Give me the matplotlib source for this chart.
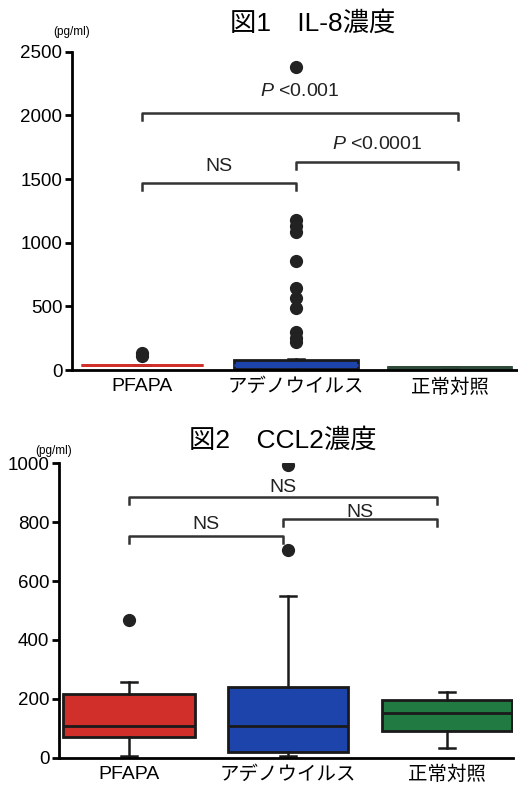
import matplotlib.pyplot as plt
import numpy as np

plt.rcParams['font.family'] = ['Liberation Sans', 'Noto Sans CJK JP', 'DejaVu Sans']
plt.rcParams['mathtext.fontset'] = 'custom'
plt.rcParams['mathtext.it'] = 'Liberation Sans:italic'
plt.rcParams['mathtext.rm'] = 'Liberation Sans'

groups = ['PFAPA', 'アデノウイルス', '正常対照']
colors = ['#d1302a', '#1c44aa', '#217a42']

# fig 1: IL-8 (pg/ml)
il8_q1 = [38, 8, 20]
il8_med = [40, 40, 24]
il8_q3 = [42, 80, 28]
il8_lo = [38, 5, 20]
il8_hi = [42, 90, 28]
il8_fliers = [[135, 112],
              [2380, 1180, 1130, 1085, 857, 645, 566, 487, 299, 250, 220],
              []]

# fig 2: CCL2 (pg/ml)
ccl2_q1 = [71, 20, 92]
ccl2_med = [108, 108, 153]
ccl2_q3 = [217, 241, 197]
ccl2_lo = [5, 5, 34]
ccl2_hi = [258, 549, 224]
ccl2_fliers = [[468], [993, 705], []]

# significance brackets: (x1, x2, y, label, label_y)
il8_sig = [(0, 1, 1470, 'NS', 1600),
           (1, 2.05, 1635, '$P$ <0.0001', 1775),
           (0, 2.05, 2020, '$P$ <0.001', 2185)]
ccl2_sig = [(0, 0.97, 752, 'NS', 793),
            (0.97, 1.94, 810, 'NS', 834),
            (0, 1.94, 885, 'NS', 918)]


def make_stats(q1, med, q3, lo, hi, fl):
    out = []
    for i in range(len(q1)):
        out.append(dict(q1=q1[i], med=med[i], q3=q3[i], whislo=lo[i],
                        whishi=hi[i], fliers=fl[i], label=groups[i]))
    return out


def draw_panel(ax, stats, widths, edge, medc, sig, tick, ymax):
    bp = ax.bxp(stats, positions=range(len(stats)), widths=widths,
                capwidths=0.1, patch_artist=True, showfliers=True,
                boxprops=dict(linewidth=2),
                medianprops=dict(color='#1a1a1a', linewidth=2),
                whiskerprops=dict(color='#1a1a1a', linewidth=1.8),
                capprops=dict(color='#1a1a1a', linewidth=1.8),
                flierprops=dict(marker='o', markerfacecolor='#222222',
                                markeredgecolor='#222222', markersize=8.5))
    for i, b in enumerate(bp['boxes']):
        b.set_facecolor(colors[i])
        b.set_edgecolor(edge[i])
    for i, m in enumerate(bp['medians']):
        m.set_color(medc[i])
    for x1, x2, y, lab, ly in sig:
        d = ymax * 0.022
        ax.plot([x1, x1, x2, x2], [y - d, y, y, y - d], color='#333333',
                lw=1.8, clip_on=False)
        ax.text((x1 + x2) / 2, ly, lab, ha='center', va='center',
                fontsize=14, color='#222222')
    ax.set_ylim(0, ymax)
    ax.set_yticks(np.arange(0, ymax + 1, tick))
    ax.spines['top'].set_visible(False)
    ax.spines['right'].set_visible(False)
    ax.spines['left'].set_linewidth(2)
    ax.spines['bottom'].set_linewidth(2)
    ax.tick_params(axis='y', labelsize=13.5, length=5, width=2, pad=2)
    ax.tick_params(axis='x', labelsize=14, length=0, pad=6)


fig = plt.figure(figsize=(5.18, 7.96), dpi=100)

ax1 = fig.add_axes([0.139, 0.535, 0.861, 0.400])
draw_panel(ax1, make_stats(il8_q1, il8_med, il8_q3, il8_lo, il8_hi, il8_fliers),
           [0.79, 0.81, 0.80], [colors[0], '#1a1a1a', '#2e4a38'],
           [colors[0], colors[1], '#2e4a38'], il8_sig, 500, 2500)
ax1.set_xlim(-0.456, 2.443)

ax2 = fig.add_axes([0.114, 0.048, 0.876, 0.370])
draw_panel(ax2, make_stats(ccl2_q1, ccl2_med, ccl2_q3, ccl2_lo, ccl2_hi, ccl2_fliers),
           [0.83, 0.76, 0.82], ['#1a1a1a'] * 3, ['#1a1a1a'] * 3,
           ccl2_sig, 200, 1000)
ax2.set_xlim(-0.44, 2.415)

fig.text(0.604, 0.971, '図1　IL-8濃度', ha='center', va='center', fontsize=19)
fig.text(0.546, 0.447, '図2　CCL2濃度', ha='center', va='center', fontsize=19)
fig.text(0.139, 0.960, '(pg/ml)', ha='center', va='center', fontsize=8.5)
fig.text(0.104, 0.433, '(pg/ml)', ha='center', va='center', fontsize=8.5)

fig.savefig('out.png', dpi=100)
